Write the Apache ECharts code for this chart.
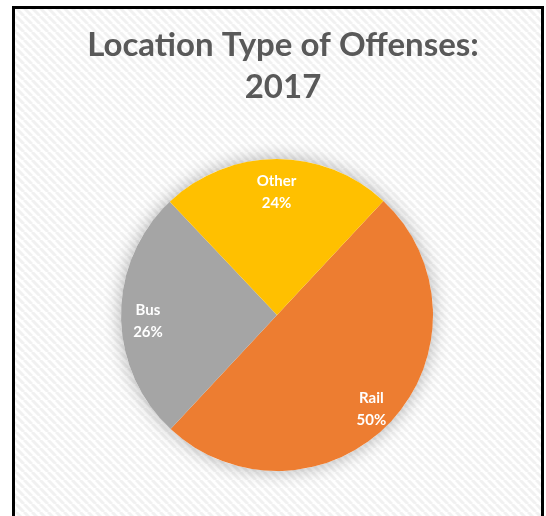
<!DOCTYPE html>
<html>
<head>
<meta charset="utf-8">
<script src="https://cdn.jsdelivr.net/npm/echarts@6/dist/echarts.min.js"></script>
<style>
  html, body { margin: 0; padding: 0; background: #fff; }
  #chart { width: 546px; height: 516px; }
</style>
</head>
<body>
<div id="chart"></div>
<script>
// data
const categories = ['Rail', 'Bus', 'Other']
const shares = [50, 26, 24]
const colors = ['#ED7D31', '#A5A5A5', '#FFC000']
const titleText = 'Location Type of Offenses:\n2017'

// hatched background tile
function makeHatch() {
  const c = document.createElement('canvas')
  c.width = 8
  c.height = 8
  const ctx = c.getContext('2d')
  ctx.fillStyle = '#ffffff'
  ctx.fillRect(0, 0, 8, 8)
  ctx.strokeStyle = '#f1f1f1'
  ctx.lineWidth = 3
  ;[-8, 0, 8].forEach(k => {
    ctx.beginPath()
    ctx.moveTo(k, 0)
    ctx.lineTo(k + 8, 8)
    ctx.stroke()
  })
  return c
}

const center = [277, 315]
const radius = 156

const pieData = categories.map((name, i) => ({
  name: name,
  value: shares[i],
  itemStyle: { color: colors[i] }
}))

const chart = echarts.init(document.getElementById('chart'), null, { renderer: 'canvas' })

chart.setOption({
  backgroundColor: '#ffffff',
  animation: false,
  graphic: [
    {
      type: 'rect',
      z: -10,
      shape: { x: 13.5, y: 7.5, width: 529, height: 520 },
      style: {
        fill: { image: makeHatch(), repeat: 'repeat' },
        stroke: '#000',
        lineWidth: 3
      }
    }
  ],
  title: {
    text: titleText,
    left: 278,
    top: 19,
    textAlign: 'center',
    textStyle: {
      fontFamily: 'Lato',
      fontWeight: 'bold',
      fontSize: 33,
      lineHeight: 42,
      color: '#595959'
    }
  },
  series: [
    {
      // soft shadow behind the pie
      type: 'pie',
      silent: true,
      z: 1,
      center: center,
      radius: radius,
      label: { show: false },
      labelLine: { show: false },
      data: [{ value: 1, itemStyle: { color: '#ffffff', shadowBlur: 18, shadowColor: 'rgba(0,0,0,0.3)' } }]
    },
    {
      type: 'pie',
      z: 2,
      center: center,
      radius: radius,
      startAngle: 47,
      clockwise: true,
      label: { show: false },
      labelLine: { show: false },
      data: pieData
    },
    {
      // label ring, placed toward the rim
      type: 'pie',
      z: 3,
      silent: true,
      center: center,
      radius: [96, radius],
      startAngle: 47,
      clockwise: true,
      itemStyle: { color: 'rgba(0,0,0,0)' },
      label: {
        show: true,
        position: 'inside',
        formatter: '{pad|}\n{b}\n{d}%',
        color: '#ffffff',
        fontFamily: 'Lato',
        fontWeight: 'bold',
        fontSize: 15,
        lineHeight: 22,
        rich: {
          pad: { height: 12, lineHeight: 12 }
        }
      },
      labelLine: { show: false },
      data: categories.map((name, i) => ({ name: name, value: shares[i] }))
    }
  ]
})
</script>
</body>
</html>
